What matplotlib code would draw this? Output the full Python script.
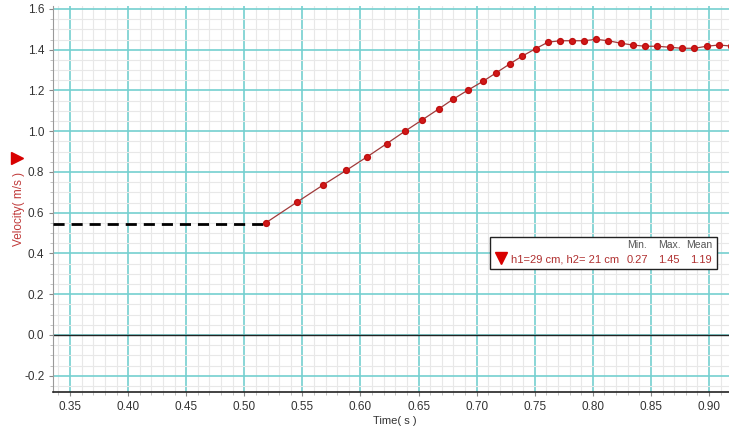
import matplotlib
matplotlib.use("Agg")
import matplotlib.pyplot as plt
from matplotlib.patches import Rectangle
from matplotlib.ticker import MultipleLocator, FormatStrFormatter

# ---- data ----
time_s = [0.5187, 0.5451, 0.5678, 0.5878, 0.6059, 0.6226, 0.6383, 0.6527,
          0.6673, 0.6797, 0.6926, 0.7055, 0.7169, 0.7290, 0.7393, 0.7508,
          0.7614, 0.7720, 0.7823, 0.7927, 0.8027, 0.8133, 0.8240, 0.8343,
          0.8449, 0.8555, 0.8662, 0.8768, 0.8874, 0.8980, 0.9084, 0.9190]
velocity = [0.551, 0.651, 0.736, 0.808, 0.875, 0.939, 1.000, 1.054,
            1.109, 1.157, 1.202, 1.245, 1.287, 1.332, 1.369, 1.405,
            1.437, 1.444, 1.444, 1.444, 1.451, 1.444, 1.432, 1.423,
            1.417, 1.417, 1.412, 1.407, 1.407, 1.417, 1.423, 1.418]
dash_t = [0.3356, 0.5187]
dash_v = [0.545, 0.545]
legend_label = "h1=29 cm, h2= 21 cm"
legend_headers = ["Min.", "Max.", "Mean"]
legend_values = ["0.27", "1.45", "1.19"]

W, H = 729, 428
plt.rcParams['font.family'] = ['Liberation Sans', 'DejaVu Sans']
fig = plt.figure(figsize=(W / 100, H / 100), dpi=100)

def fx(px):
    return px / W

def fy(py):
    return 1 - py / H

ax = fig.add_axes([fx(53.3), fy(391.7), fx(729) - fx(53.3), fy(6) - fy(391.7)])
ax.set_xlim(0.3356, 0.9172)
ax.set_ylim(-0.2785, 1.6145)

ax.xaxis.set_major_locator(MultipleLocator(0.05))
ax.xaxis.set_minor_locator(MultipleLocator(0.01))
ax.yaxis.set_major_locator(MultipleLocator(0.2))
ax.yaxis.set_minor_locator(MultipleLocator(0.05))
ax.xaxis.set_major_formatter(FormatStrFormatter('%.2f'))
ax.yaxis.set_major_formatter(FormatStrFormatter('%.1f'))

ax.grid(which='minor', color='#e8e8e8', linewidth=0.8)
ax.grid(which='major', color='#74d0d0', linewidth=1.2)
ax.set_axisbelow(True)

for s in ['top', 'right']:
    ax.spines[s].set_visible(False)
ax.spines['left'].set_color('#999999')
ax.spines['left'].set_linewidth(0.8)
ax.spines['bottom'].set_color('#222222')
ax.spines['bottom'].set_linewidth(1.2)

ax.tick_params(which='major', length=3, color='#888888', labelsize=8.5,
               labelcolor='#333333')
ax.tick_params(which='minor', length=2, color='#b8b8b8')
ax.tick_params(axis='x', pad=4)

ax.axhline(0, color='#222222', linewidth=1.0, zorder=2)

ax.plot(dash_t, dash_v, color='black', linewidth=2, linestyle=(0, (4, 2.5)),
        zorder=3)
ax.plot(time_s, velocity, color='#a03a3a', linewidth=0.9, zorder=4,
        clip_on=True)
ax.plot(time_s, velocity, linestyle='none', marker='o', markersize=4.2,
        markerfacecolor='#d01818', markeredgecolor='#c01010', zorder=5,
        clip_on=True)

# axis labels
fig.text(fx(395), fy(420.5), "Time( s )", ha='center', va='center',
         fontsize=8, color='#333333')
fig.text(fx(19), fy(209), "Velocity( m/s )", ha='center', va='center',
         rotation=90, fontsize=8.5, color='#c03a3a')
fig.add_artist(plt.Line2D([fx(17)], [fy(158)], marker='>', markersize=9,
                          color='#d80000', linestyle='none',
                          transform=fig.transFigure))

# legend box
fig.add_artist(Rectangle((fx(490), fy(269)), fx(717.3) - fx(490),
                         fy(237.3) - fy(269), transform=fig.transFigure,
                         facecolor='white', edgecolor='#222222',
                         linewidth=1.0, zorder=10))
hx = [637, 669, 699]
vx = [637, 669, 701]
for x, t in zip(hx, legend_headers):
    fig.text(fx(x), fy(245), t, ha='center', va='center', fontsize=7.5,
             color='#555555', zorder=11)
for x, t in zip(vx, legend_values):
    fig.text(fx(x), fy(260), t, ha='center', va='center', fontsize=8,
             color='#b03030', zorder=11)
fig.text(fx(510.7), fy(260), legend_label, ha='left', va='center',
         fontsize=8, color='#b03030', zorder=11)
fig.add_artist(plt.Line2D([fx(500.7)], [fy(257.5)], marker='v', markersize=9,
                          color='#d80000', linestyle='none',
                          transform=fig.transFigure, zorder=11))

fig.savefig("out.png", dpi=100)
